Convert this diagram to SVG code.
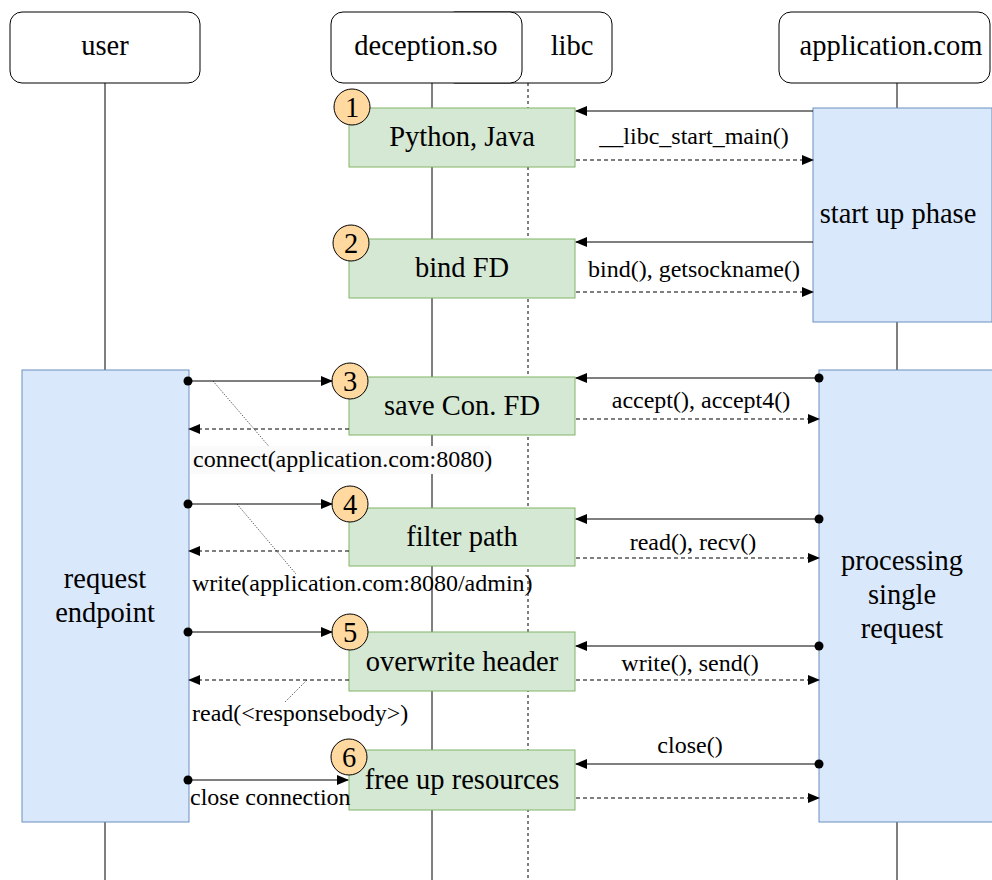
<svg xmlns="http://www.w3.org/2000/svg" width="992" height="880" viewBox="0 0 992 880" font-family="'Liberation Serif', 'Times New Roman', Tinos, 'DejaVu Serif', serif">
<defs>
<style>
text{font-family:'Liberation Serif','Times New Roman',Tinos,'DejaVu Serif',serif;fill:#000}
.big{font-size:28.5px;text-anchor:middle}
.lbl{font-size:24px}
.mid{text-anchor:middle}
.head{fill:#fff;stroke:#000;stroke-width:1}
.life{stroke:#000;stroke-width:1;fill:none}
.lifed{stroke:#000;stroke-width:1;stroke-dasharray:3 3;fill:none}
.act{fill:#d5e8d4;stroke:#82b366;stroke-width:1}
.blue{fill:#dae8fc;stroke:#6c8ebf;stroke-width:1}
.num{fill:#ffd9a0;stroke:#000;stroke-width:1}
.sol{stroke:#000;stroke-width:1.2;fill:none;marker-end:url(#ah)}
.ret{stroke:#000;stroke-width:1.2;fill:none;stroke-dasharray:4 3;marker-end:url(#ah)}
.note{stroke:#000;stroke-width:0.8;fill:none;stroke-dasharray:1 1.5}
</style>
<marker id="ah" markerWidth="12" markerHeight="10" refX="11" refY="5" orient="auto" markerUnits="userSpaceOnUse"><path d="M0,0 L12,5 L0,10 Z" fill="#000"/></marker>
</defs>
<rect width="992" height="880" fill="#fff"/>
<g id="lifelines">
<line class="life" x1="105" y1="83" x2="105" y2="880"/>
<line class="life" x1="432" y1="83" x2="432" y2="880"/>
<line class="lifed" x1="528" y1="83" x2="528" y2="880"/>
<line class="life" x1="897" y1="83" x2="897" y2="880"/>
</g>
<g id="libc"><rect class="head" x="443" y="12" width="169" height="71" rx="12"/><text class="big" x="572" y="55">libc</text></g>
<g id="user"><rect class="head" x="10" y="12" width="190" height="71" rx="12"/><text class="big" x="105" y="55">user</text></g>
<g id="deception"><rect class="head" x="331" y="12" width="191" height="71" rx="12"/><text class="big" x="426" y="55">deception.so</text></g>
<g id="application"><rect class="head" x="779" y="12" width="211" height="71" rx="12"/><text class="big" x="891" y="55">application.com</text></g>
<g id="startup"><rect class="blue" x="813" y="108" width="179" height="214"/><text class="big" x="898" y="223">start up phase</text></g>
<g id="processing"><rect class="blue" x="819" y="370" width="175" height="452"/><text class="big" x="902" y="570">processing</text><text class="big" x="902" y="604">single</text><text class="big" x="902" y="638">request</text></g>
<g id="endpoint"><rect class="blue" x="22" y="370" width="167" height="452"/><text class="big" x="105" y="588">request</text><text class="big" x="105" y="622">endpoint</text></g>
<g id="step1"><rect class="act" x="349" y="108" width="226" height="59"/><text class="big" x="462" y="146">Python, Java</text><circle class="num" cx="352" cy="107" r="18"/><text class="big" x="352" y="117">1</text></g>
<g id="step2"><rect class="act" x="349" y="239" width="226" height="59"/><text class="big" x="462" y="277">bind FD</text><circle class="num" cx="351" cy="243" r="18"/><text class="big" x="351" y="253">2</text></g>
<g id="step3"><rect class="act" x="349" y="377" width="226" height="58"/><text class="big" x="462" y="415">save Con. FD</text><circle class="num" cx="350" cy="381" r="18"/><text class="big" x="350" y="391">3</text></g>
<g id="step4"><rect class="act" x="349" y="508" width="226" height="58"/><text class="big" x="462" y="546">filter path</text><circle class="num" cx="350" cy="504" r="18"/><text class="big" x="350" y="514">4</text></g>
<g id="step5"><rect class="act" x="349" y="632" width="226" height="59"/><text class="big" x="462" y="671">overwrite header</text><circle class="num" cx="350" cy="632" r="18"/><text class="big" x="350" y="642">5</text></g>
<g id="step6"><rect class="act" x="349" y="750" width="226" height="60"/><text class="big" x="462" y="789">free up resources</text><circle class="num" cx="349" cy="757" r="18"/><text class="big" x="349" y="767">6</text></g>
<g id="connectors">
<line class="sol" x1="813" y1="111" x2="576" y2="111"/>
<line class="ret" x1="576" y1="160" x2="813" y2="160"/>
<text class="lbl mid" x="694" y="144">__libc_start_main()</text>
<line class="sol" x1="813" y1="242" x2="576" y2="242"/>
<line class="ret" x1="576" y1="292" x2="813" y2="292"/>
<text class="lbl mid" x="694" y="277">bind(), getsockname()</text>
<line class="sol" x1="819" y1="378" x2="576" y2="378"/><circle cx="819" cy="378" r="4.5"/>
<line class="ret" x1="576" y1="419" x2="819" y2="419"/>
<text class="lbl mid" x="701" y="408">accept(), accept4()</text>
<line class="sol" x1="819" y1="519" x2="576" y2="519"/><circle cx="819" cy="519" r="4.5"/>
<line class="ret" x1="576" y1="558" x2="819" y2="558"/>
<text class="lbl mid" x="693" y="550">read(), recv()</text>
<line class="sol" x1="819" y1="646" x2="576" y2="646"/><circle cx="819" cy="646" r="4.5"/>
<line class="ret" x1="576" y1="680" x2="819" y2="680"/>
<text class="lbl mid" x="690" y="671">write(), send()</text>
<line class="sol" x1="819" y1="764" x2="576" y2="764"/><circle cx="819" cy="764" r="4.5"/>
<line class="ret" x1="576" y1="798" x2="819" y2="798"/>
<text class="lbl mid" x="690" y="753">close()</text>
<line class="sol" x1="188" y1="381" x2="332" y2="381"/><circle cx="188" cy="381" r="4.5"/>
<line class="ret" x1="349" y1="429" x2="189" y2="429"/>
<line class="note" x1="213" y1="381" x2="272" y2="450"/>
<rect x="191" y="446" width="300" height="28" fill="#fafafa"/>
<text class="lbl" x="193" y="467">connect(application.com:8080)</text>
<line class="sol" x1="188" y1="504" x2="332" y2="504"/><circle cx="188" cy="504" r="4.5"/>
<line class="ret" x1="349" y1="551" x2="189" y2="551"/>
<line class="note" x1="237" y1="504" x2="296" y2="574"/>
<text class="lbl" x="192" y="591">write(application.com:8080/admin)</text>
<line class="sol" x1="188" y1="632" x2="332" y2="632"/><circle cx="188" cy="632" r="4.5"/>
<line class="ret" x1="349" y1="680" x2="189" y2="680"/>
<line class="note" x1="307" y1="680" x2="284" y2="703"/>
<text class="lbl" x="192" y="721">read(&lt;responsebody&gt;)</text>
<line class="sol" x1="188" y1="780" x2="348" y2="780"/><circle cx="188" cy="780" r="4.5"/>
<text class="lbl" x="190" y="805">close connection</text>
</g>
</svg>
